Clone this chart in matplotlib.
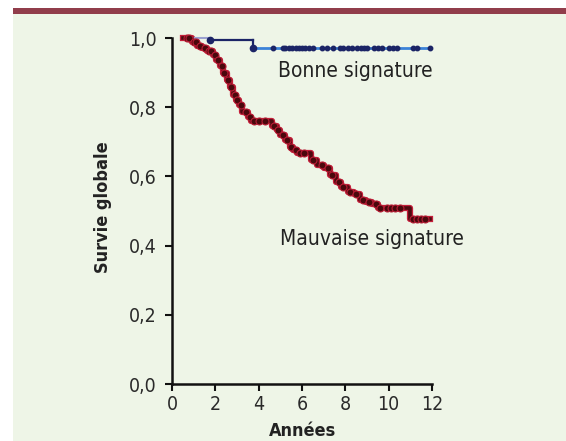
import matplotlib
matplotlib.use("Agg")
import matplotlib.pyplot as plt
from matplotlib.patches import Rectangle
import numpy as np

# Courbe "Mauvaise signature" (Kaplan-Meier, en marches)
t_mauvaise = [0.5, 0.9, 1.15, 1.38, 1.6, 1.9, 2.05, 2.2, 2.35, 2.54, 2.68, 2.8, 2.95,
              3.1, 3.25, 3.5, 3.65, 4.6, 4.85, 5.0, 5.2, 5.45, 5.6, 5.77, 6.4, 6.7,
              7.0, 7.3, 7.55, 7.8, 8.1, 8.4, 8.68, 8.95, 9.25, 9.5, 11.0, 11.9]
s_mauvaise = [1.0, 0.988, 0.977, 0.971, 0.962, 0.95, 0.935, 0.92, 0.9, 0.879, 0.857, 0.835, 0.82,
              0.806, 0.785, 0.772, 0.76, 0.746, 0.735, 0.72, 0.705, 0.686, 0.675, 0.667, 0.647, 0.633,
              0.624, 0.605, 0.585, 0.568, 0.555, 0.548, 0.532, 0.526, 0.52, 0.509, 0.478, 0.478]
cens_mauvaise = [0.7, 0.8, 1.0, 1.1, 1.3, 1.5, 1.7, 1.8, 2.0, 2.1, 2.3, 2.4, 2.6, 2.7, 2.9,
                 3.0, 3.2, 3.4, 3.6, 3.8, 4.0, 4.3, 4.7, 4.9, 5.1, 5.3, 5.5, 5.7, 5.9, 6.1,
                 6.5, 6.9, 7.2, 7.4, 7.7, 7.9, 8.2, 8.5, 8.8, 9.1, 9.4, 9.6, 9.9, 10.1,
                 10.3, 10.5, 11.1, 11.3, 11.5, 11.7]

# Courbe "Bonne signature"
t_bonne = [0.5, 1.75, 3.74, 11.9]
s_bonne = [1.0, 0.994, 0.972, 0.972]
cens_bonne = [4.66, 5.1, 5.2, 5.4, 5.55, 5.7, 5.85, 6.0, 6.15, 6.3, 6.5, 6.9, 7.15, 7.43,
              7.75, 7.9, 8.1, 8.3, 8.55, 8.7, 8.85, 9.0, 9.3, 9.5, 9.7, 10.0, 10.2,
              10.4, 11.1, 11.3, 11.9]

xticks = [0, 2, 4, 6, 8, 10, 12]
yticks = [0.0, 0.2, 0.4, 0.6, 0.8, 1.0]

plt.rcParams["font.family"] = ["DejaVu Sans"]
plt.rcParams["font.stretch"] = "condensed"


def survie_a(t, temps, surv):
    i = np.searchsorted(temps, t, side="right") - 1
    return np.array(surv)[i]


fig = plt.figure(figsize=(5.66, 4.41), dpi=100, facecolor="white")
fig.patches.append(Rectangle((13 / 566, 0), 1, 427 / 441, transform=fig.transFigure,
                             facecolor="#eef5e7", edgecolor="none", zorder=-10))
fig.patches.append(Rectangle((13 / 566, 427 / 441), 1, 6 / 441, transform=fig.transFigure,
                             facecolor="#913d4b", edgecolor="none", zorder=-10))

ax = fig.add_axes([172 / 566, 57 / 441, 260 / 566, 346 / 441])
ax.set_facecolor("none")

# mauvaise signature
ax.step(t_mauvaise, s_mauvaise, where="post", color="#c41e3a", lw=4.5, clip_on=False, zorder=3)
ax.step(t_mauvaise, s_mauvaise, where="post", color="#4e0a10", lw=2.6, clip_on=False, zorder=4)
ax.plot(cens_mauvaise, survie_a(cens_mauvaise, t_mauvaise, s_mauvaise), "o", ms=5,
        mfc="#4a080d", mec="#b81d35", mew=0.8, clip_on=False, zorder=5)

# bonne signature
ax.step(t_bonne[:2], [s_bonne[0], s_bonne[0]], where="post", color="#9aa0d0", lw=1.5, clip_on=False, zorder=3)
ax.step(t_bonne[1:3], [s_bonne[1], s_bonne[1]], where="post", color="#1b2466", lw=1.6, clip_on=False, zorder=3)
ax.plot([t_bonne[1], t_bonne[1]], [s_bonne[0], s_bonne[1]], color="#1b2466", lw=1.6, zorder=3)
ax.plot([t_bonne[2], t_bonne[2]], [s_bonne[1], s_bonne[2]], color="#1b2466", lw=1.6, zorder=3)
ax.step(t_bonne[2:], s_bonne[2:], where="post", color="#3b82d8", lw=2, clip_on=False, zorder=3)
ax.plot(cens_bonne, survie_a(cens_bonne, t_bonne, s_bonne), "o", ms=3.2,
        mfc="#1b2466", mec="#1b2466", clip_on=False, zorder=4)
ax.plot([t_bonne[1], t_bonne[2]], [s_bonne[1], s_bonne[2]], "o", ms=4.5,
        color="#1b2466", clip_on=False, zorder=4)

ax.text(4.9, 0.905, "Bonne signature", fontsize=15, color="#222222", va="center")
ax.text(5.0, 0.42, "Mauvaise signature", fontsize=15, color="#222222", va="center")

ax.set_xlim(0, 12)
ax.set_ylim(0, 1.0)
ax.set_xticks(xticks)
ax.set_xticklabels([str(x) for x in xticks])
ax.set_yticks(yticks)
ax.set_yticklabels([f"{y:.1f}".replace(".", ",") for y in yticks])

for cote in ["top", "right"]:
    ax.spines[cote].set_visible(False)
for cote in ["left", "bottom"]:
    ax.spines[cote].set_linewidth(1.8)
    ax.spines[cote].set_color("#111111")

ax.tick_params(axis="both", direction="out", length=5, width=1.5, color="#111111",
               labelsize=14, labelcolor="#2a2a2a")
ax.tick_params(axis="x", pad=3)
ax.tick_params(axis="y", pad=6)

ax.set_xlabel("Années", fontsize=13, fontweight="bold", color="#222222")
ax.set_ylabel("Survie globale", fontsize=13, fontweight="bold", color="#222222")
ax.xaxis.set_label_coords(0.504, -0.11)
ax.yaxis.set_label_coords(-0.23, 0.51)

fig.savefig("out.png", dpi=100, facecolor="white")
